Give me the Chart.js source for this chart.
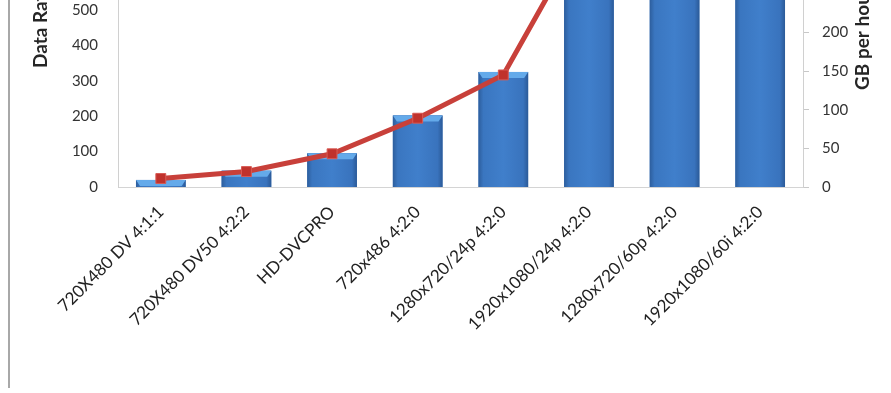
<!DOCTYPE html>
<html>
<head>
<meta charset="utf-8">
<script src="https://cdn.jsdelivr.net/npm/chart.js@4.4.1/dist/chart.umd.min.js"></script>
<style>
  html, body { margin: 0; padding: 0; background: #fff; overflow: hidden; }
  body { width: 891px; height: 393px; position: relative; }
  #frame { position: absolute; left: 8px; top: 0; width: 2px; height: 388px; background: #a8a8a8; }
  #wrap { position: absolute; left: 0; top: -175px; width: 891px; height: 568px; }
</style>
</head>
<body>
<div id="wrap"><canvas id="chart"></canvas></div>
<div id="frame"></div>
<script>
// values (bars: data rate, line: GB per hour)
const categories = ['720X480 DV 4:1:1', '720X480 DV50 4:2:2', 'HD-DVCPRO', '720x486 4:2:0',
  '1280x720/24p 4:2:0', '1920x1080/24p 4:2:0', '1280x720/60p 4:2:0', '1920x1080/60i 4:2:0'];
const dataRate = [20, 46, 95, 202, 325, 760, 840, 950];
const gbPerHour = [11, 20, 43, 89, 145, 342, 378, 427];
const rateMax = 1000, rateStep = 100;
const gbMax = 458, gbStep = 50;

// shade the bars like the excel bevel look
const barShade = {
  id: 'barShade',
  afterDatasetDraw(chart, args) {
    if (args.index !== 0) return;
    const ctx = chart.ctx, a = chart.chartArea;
    ctx.save();
    ctx.beginPath();
    ctx.rect(a.left, a.top, a.right - a.left, a.bottom - a.top);
    ctx.clip();
    args.meta.data.forEach(bar => {
      const p = bar.getProps(['x', 'y', 'base', 'width'], true);
      const l = p.x - p.width / 2, r = p.x + p.width / 2;
      const g = ctx.createLinearGradient(l, 0, r, 0);
      g.addColorStop(0, '#2d5e9d');
      g.addColorStop(0.1, '#3a76c0');
      g.addColorStop(0.5, '#407fcb');
      g.addColorStop(0.9, '#3973bd');
      g.addColorStop(1, '#2b5a98');
      ctx.fillStyle = g;
      ctx.fillRect(l, p.y, p.width, p.base - p.y);
      ctx.fillStyle = '#64aaea';
      ctx.beginPath();
      ctx.moveTo(l, p.y);
      ctx.lineTo(r, p.y);
      ctx.lineTo(r - 4, p.y + 6);
      ctx.lineTo(l + 4, p.y + 6);
      ctx.closePath();
      ctx.fill();
    });
    ctx.restore();
  }
};

// both axis titles read bottom to top, starting low on the plot
const axisTitles = {
  id: 'axisTitles',
  afterDraw(chart) {
    const ctx = chart.ctx, left = chart.scales.rate, right = chart.scales.gb;
    const base = left.getPixelForValue(0);
    const put = (text, x, y) => {
      ctx.save();
      ctx.translate(x, y);
      ctx.rotate(-Math.PI / 2);
      ctx.font = 'bold 19px Lato';
      ctx.fillStyle = '#262626';
      ctx.textAlign = 'left';
      ctx.textBaseline = 'middle';
      ctx.fillText(text, 0, 0);
      ctx.restore();
    };
    put('Data Rate (Mb/s)', left.left + 41, base - 119);
    put('GB per hour', right.right - 28, base - 97);
  }
};

function fitY(w) {
  return function (scale) {
    scale.width = w;
    scale.paddingTop = 0;
    scale.paddingBottom = 0;
  };
}

new Chart(document.getElementById('chart'), {
  data: {
    labels: categories,
    datasets: [
      {
        type: 'bar',
        data: dataRate,
        yAxisID: 'rate',
        backgroundColor: '#3a75c0',
        barPercentage: 0.58,
        categoryPercentage: 1,
        order: 1
      },
      {
        type: 'line',
        data: gbPerHour,
        yAxisID: 'gb',
        borderColor: '#c8403a',
        borderWidth: 5,
        tension: 0,
        pointStyle: 'rect',
        pointRadius: 7,
        pointBackgroundColor: '#c0322c',
        pointBorderColor: '#d85a54',
        pointBorderWidth: 1,
        order: 0
      }
    ]
  },
  options: {
    responsive: true,
    maintainAspectRatio: false,
    animation: false,
    layout: { padding: 0 },
    plugins: { legend: { display: false }, tooltip: { enabled: false } },
    scales: {
      x: {
        grid: { display: false, drawTicks: false },
        border: { display: true, color: '#d4d4d4', width: 1 },
        ticks: {
          autoSkip: false, maxRotation: 45, minRotation: 45,
          padding: 15, color: '#222', font: { family: 'Lato', size: 17 }
        },
        afterFit(scale) {
          scale.height = 206;
          scale.paddingLeft = 0;
          scale.paddingRight = 0;
        }
      },
      rate: {
        position: 'left',
        min: 0, max: rateMax,
        grid: { display: false, drawTicks: false },
        border: { display: true, color: '#d0d0d0', width: 1 },
        ticks: { stepSize: rateStep, padding: 20, color: '#333', font: { family: 'Lato', size: 15 } },
        afterFit: fitY(118)
      },
      gb: {
        position: 'right',
        min: 0, max: gbMax,
        grid: { display: true, drawOnChartArea: false, drawTicks: true, tickLength: 6, color: '#c8c8c8' },
        border: { display: true, color: '#d0d0d0', width: 1 },
        ticks: { stepSize: gbStep, padding: 13, color: '#333', font: { family: 'Lato', size: 15 } },
        afterFit: fitY(88)
      }
    }
  },
  plugins: [barShade, axisTitles]
});
</script>
</body>
</html>
